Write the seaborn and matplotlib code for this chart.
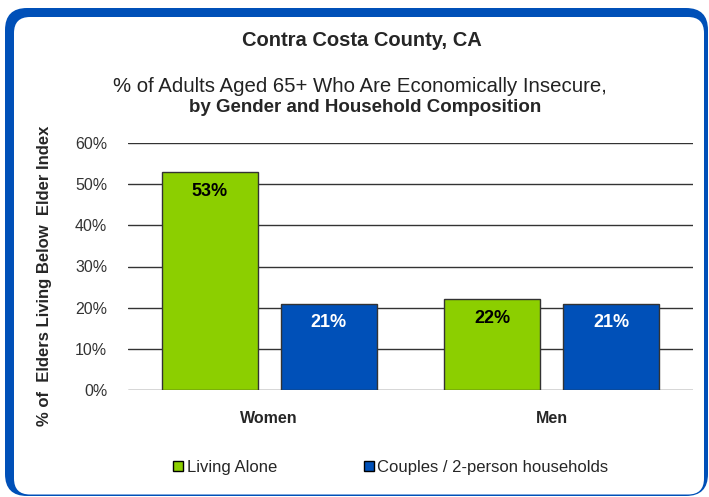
import matplotlib
matplotlib.use("Agg")
import matplotlib.pyplot as plt
import seaborn as sns
import pandas as pd
from matplotlib.patches import FancyBboxPatch, Patch
from matplotlib.ticker import FuncFormatter

# data
genders = ["Women", "Men"]
groups = ["Living Alone", "Couples / 2-person households"]
living_alone = [53, 22]
couples = [21, 21]
y_ticks = [0, 10, 20, 30, 40, 50, 60]

df = pd.DataFrame({
    "gender": genders * 2,
    "group": [groups[0]] * 2 + [groups[1]] * 2,
    "pct": living_alone + couples,
})

sns.set_style("white")
plt.rcParams["font.family"] = ["Liberation Sans", "DejaVu Sans"]

green = "#8ccf00"
blue = "#0050b8"

fig = plt.figure(figsize=(7.09, 4.97), dpi=100)

# rounded blue frame
bg = fig.add_axes([0, 0, 1, 1], zorder=-1)
bg.set_xlim(0, 709)
bg.set_ylim(0, 497)
bg.axis("off")
bg.add_patch(FancyBboxPatch((5, 1), 703, 488, boxstyle="round,pad=0,rounding_size=22",
                            fc=blue, ec="none"))
bg.add_patch(FancyBboxPatch((14, 2.5), 690, 477.5, boxstyle="round,pad=0,rounding_size=16",
                            fc="white", ec="none"))

ax = fig.add_axes([128 / 709, 107 / 497, 565 / 709, 247 / 497])
ax.patch.set_alpha(0)
sns.barplot(data=df, x="gender", y="pct", hue="group", palette=[green, blue],
            saturation=1, width=0.84, gap=0.19, edgecolor="#333333", linewidth=1,
            ax=ax, zorder=3)

ax.set_xlim(-0.5, 1.5)
ax.set_ylim(0, 60)
ax.set_yticks(y_ticks)
ax.yaxis.set_major_formatter(FuncFormatter(lambda v, p: f"{v:.0f}%"))
ax.set_axisbelow(True)
ax.grid(axis="y", color="#333333", lw=1)
sns.despine(ax=ax, left=True, bottom=True)
ax.tick_params(axis="y", length=0, pad=15, labelsize=11.5, labelcolor="#333333")
ax.tick_params(axis="x", length=0, pad=15, labelsize=11.5)
for lbl in ax.get_xticklabels():
    lbl.set_fontweight("bold")
ax.set_xlabel("")
ax.set_ylabel("% of  Elders Living Below  Elder Index", fontsize=12, fontweight="bold")
ax.yaxis.set_label_coords(-0.134, 0.462)

# value labels inside the bars
for container, color in zip(ax.containers, ["black", "white"]):
    for bar in container:
        ax.annotate(f"{bar.get_height():.0f}%",
                    (bar.get_x() + bar.get_width() / 2, bar.get_height()),
                    xytext=(0, -14), textcoords="offset points",
                    ha="center", va="center", fontsize=13, fontweight="bold",
                    color=color, zorder=4)

ax.get_legend().remove()
handles = [Patch(fc=green, ec="black", lw=1), Patch(fc=blue, ec="black", lw=1)]
fig.legend(handles, groups, loc="center", bbox_to_anchor=(0.551, 0.06), ncol=2,
           frameon=False, fontsize=12, handlelength=0.6, handleheight=0.6,
           handletextpad=0.2, columnspacing=5.2)

fig.text(0.511, 0.9195, "Contra Costa County, CA", ha="center", va="center",
         fontsize=14.5, fontweight="bold")
fig.text(0.508, 0.825, "% of Adults Aged 65+ Who Are Economically Insecure,",
         ha="center", va="center", fontsize=14.7, color="#222222")
fig.text(0.515, 0.783, "by Gender and Household Composition", ha="center",
         va="center", fontsize=13.5, fontweight="bold")

fig.savefig("out.png", dpi=100)
